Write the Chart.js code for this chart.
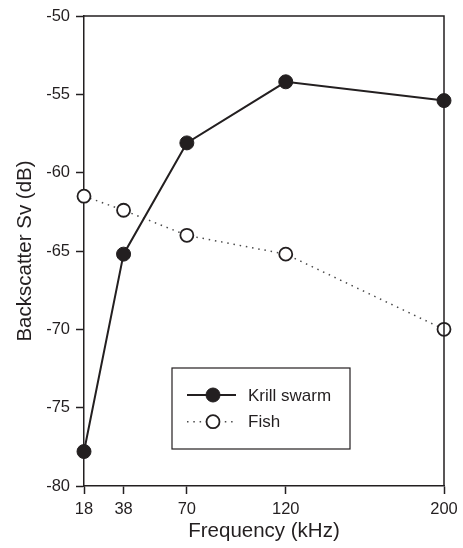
<!DOCTYPE html>
<html>
<head>
<meta charset="utf-8">
<script src="https://cdn.jsdelivr.net/npm/chart.js@4.4.1/dist/chart.umd.min.js"></script>
<style>
  html, body { margin: 0; padding: 0; background: #fff; }
</style>
</head>
<body>
<canvas id="chart" width="463" height="548"></canvas>
<script>
// Values
const frequencies = [18, 38, 70, 120, 200];
const krillSwarm = [-77.8, -65.2, -58.1, -54.2, -55.4];
const fishValues = [-61.5, -62.4, -64.0, -65.2, -70.0];
const xTickValues = [18, 38, 70, 120, 200];

const ink = '#231f20';
const family = '"Liberation Sans", Arial, Helvetica, sans-serif';

function toPoints(ys){
  return frequencies.map((f, i) => ({ x: f, y: ys[i] }));
}

// top and right sides of the frame
const frame = {
  id: 'frame',
  afterDraw(chart){
    const { ctx, chartArea: a } = chart;
    ctx.save();
    ctx.strokeStyle = ink;
    ctx.lineWidth = 1.5;
    ctx.beginPath();
    ctx.moveTo(a.left, a.top);
    ctx.lineTo(a.right, a.top);
    ctx.lineTo(a.right, a.bottom);
    ctx.stroke();
    ctx.restore();
  }
};

// boxed legend inside the plot, line + marker samples
const boxLegend = {
  id: 'boxLegend',
  afterDraw(chart){
    const { ctx, chartArea: a } = chart;
    const x = a.left + 88, y = a.top + 352, w = 178, h = 81;
    ctx.save();
    ctx.fillStyle = '#fff';
    ctx.fillRect(x, y, w, h);
    ctx.strokeStyle = ink;
    ctx.lineWidth = 1.2;
    ctx.strokeRect(x, y, w, h);
    chart.data.datasets.forEach((ds, i) => {
      const ry = y + 27 + i * 26.7;
      ctx.strokeStyle = ds.borderColor;
      ctx.lineWidth = ds.borderWidth;
      ctx.setLineDash(ds.borderDash || []);
      ctx.beginPath();
      ctx.moveTo(x + 15, ry);
      ctx.lineTo(x + 64, ry);
      ctx.stroke();
      ctx.setLineDash([]);
      ctx.beginPath();
      ctx.arc(x + 41, ry, ds.pointRadius, 0, Math.PI * 2);
      ctx.fillStyle = ds.pointBackgroundColor;
      ctx.fill();
      ctx.lineWidth = ds.pointBorderWidth;
      ctx.strokeStyle = ds.pointBorderColor;
      ctx.stroke();
      ctx.fillStyle = ink;
      ctx.font = '17px ' + family;
      ctx.textBaseline = 'middle';
      ctx.textAlign = 'left';
      ctx.fillText(ds.label, x + 76, ry + 1);
    });
    ctx.restore();
  }
};

const ctx = document.getElementById('chart').getContext('2d');

new Chart(ctx, {
  type: 'line',
  data: {
    datasets: [
      {
        label: 'Krill swarm',
        data: toPoints(krillSwarm),
        borderColor: ink,
        borderWidth: 2,
        pointRadius: 7,
        pointBackgroundColor: ink,
        pointBorderColor: ink,
        pointBorderWidth: 1,
        tension: 0,
        clip: false
      },
      {
        label: 'Fish',
        data: toPoints(fishValues),
        borderColor: '#4a4a4a',
        borderWidth: 1.5,
        borderDash: [1.5, 4.8],
        pointRadius: 6.5,
        pointBackgroundColor: '#fff',
        pointBorderColor: ink,
        pointBorderWidth: 1.8,
        tension: 0,
        clip: false
      }
    ]
  },
  options: {
    responsive: false,
    animation: false,
    events: [],
    layout: { padding: { top: 16, right: 19, bottom: 0, left: 0 } },
    plugins: { legend: { display: false }, tooltip: { enabled: false } },
    scales: {
      x: {
        type: 'linear',
        min: 18,
        max: 200,
        afterBuildTicks: s => { s.ticks = xTickValues.map(v => ({ value: v })); },
        afterFit: s => { s.height = 62; s.paddingLeft = 0; s.paddingRight = 0; },
        ticks: {
          autoSkip: false,
          maxRotation: 0,
          padding: 6,
          color: ink,
          font: { family, size: 16.5 },
          callback: v => String(v)
        },
        grid: { drawOnChartArea: false, tickLength: 8, tickColor: ink, tickWidth: 1.5 },
        border: { color: ink, width: 1.5 },
        title: {
          display: true,
          text: 'Frequency (kHz)',
          color: ink,
          font: { family, size: 20.5 },
          padding: { top: 0, bottom: 4.5 }
        }
      },
      y: {
        min: -80,
        max: -50,
        afterFit: s => { s.width = 84; s.paddingTop = 0; s.paddingBottom = 0; },
        ticks: {
          stepSize: 5,
          padding: 6,
          color: ink,
          font: { family, size: 16.5 }
        },
        grid: { drawOnChartArea: false, tickLength: 8, tickColor: ink, tickWidth: 1.5 },
        border: { color: ink, width: 1.5 },
        title: {
          display: true,
          text: 'Backscatter Sv (dB)',
          color: ink,
          font: { family, size: 20.5 },
          padding: { top: 12.7, bottom: 0 }
        }
      }
    }
  },
  plugins: [frame, boxLegend]
});
</script>
</body>
</html>
